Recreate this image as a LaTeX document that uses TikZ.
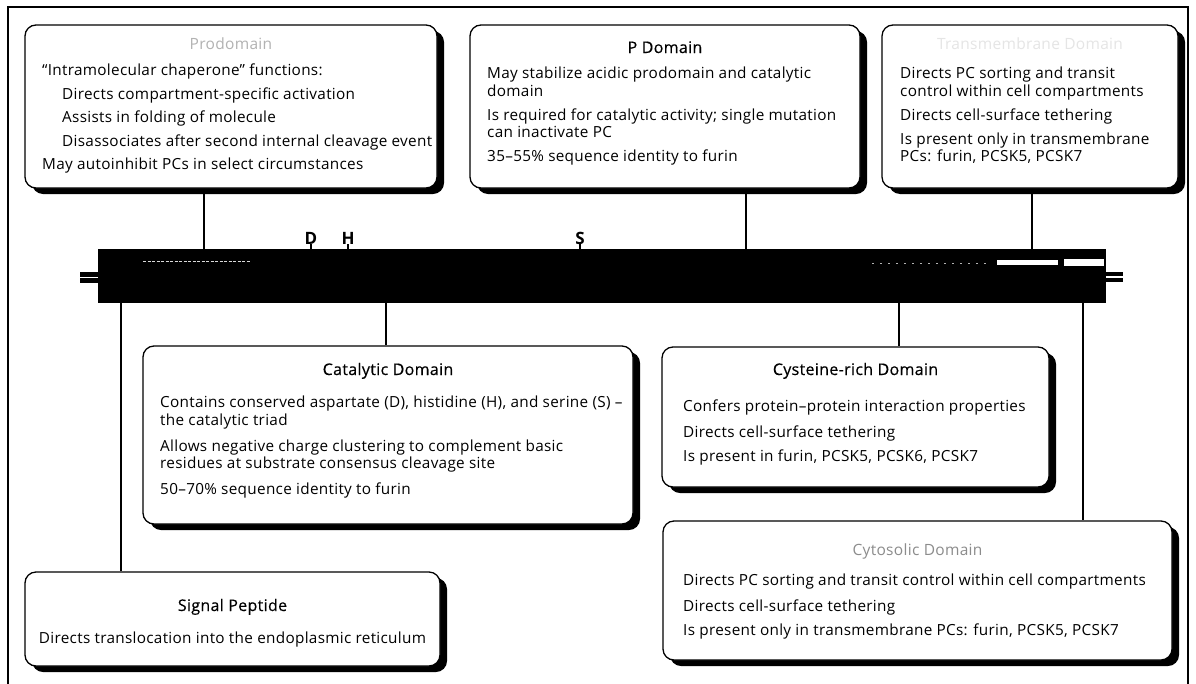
\documentclass[tikz,border=0pt]{standalone}
\usepackage{fontspec}
\setmainfont[LetterSpace=2]{Open Sans}
\newfontfamily\headfont[FakeBold=0.4,LetterSpace=2]{Open Sans}
\usetikzlibrary{shadows}
\tikzset{
  panel/.style={draw=black, line width=1.3pt, rounded corners=11pt, fill=white, inner sep=0pt,
    drop shadow={shadow xshift=7pt, shadow yshift=-6pt, fill=black, opacity=1}},
  heading/.style={anchor=base, inner sep=0pt, font=\headfont\fontsize{16}{18}\selectfont},
  pale/.style={anchor=base, inner sep=0pt, font=\fontsize{15.5}{17}\selectfont},
  body/.style={anchor=north west, inner sep=0pt, align=left, font=\fontsize{15.3}{17.5}\selectfont},
  link/.style={line width=1.6pt},
  residue/.style={anchor=base, inner sep=0pt, font=\bfseries\fontsize{17}{17}\selectfont},
}
\begin{document}
\begin{tikzpicture}[x=1pt,y=-1pt]
\useasboundingbox (0,0) rectangle (1196,683);
\fill[white] (0,0) rectangle (1196,683);
% outer frame
\draw[line width=1.2pt] (8,690) -- (8,7) -- (1188,7) -- (1188,690);

% ---------- upper panels ----------
\node[panel, minimum width=412pt, minimum height=163pt] (pro) at (231,106.5) {};
\node[pale, text=black!30] (proT) at (231,49) {Prodomain};
\node[body] (proB) at (42,64) {%
  ``Intramolecular chaperone'' functions:\\[6pt]
  \hspace*{20pt}Directs compartment-specific activation\\[6pt]
  \hspace*{20pt}Assists in folding of molecule\\[6pt]
  \hspace*{20pt}Disassociates after second internal cleavage event\\[6pt]
  May autoinhibit PCs in select circumstances};

\node[panel, minimum width=390pt, minimum height=163pt] (pd) at (665,106.5) {};
\node[heading] (pdT) at (665,53) {P Domain};
\node[body] (pdB) at (487,67) {%
  May stabilize acidic prodomain and catalytic\\
  domain\\[6.5pt]
  Is required for catalytic activity; single mutation\\
  can inactivate PC\\[6.5pt]
  35--55\% sequence identity to furin};

\node[panel, minimum width=296pt, minimum height=163pt] (tm) at (1030,106.5) {};
\node[pale, text=black!10] (tmT) at (1030,49) {Transmembrane Domain};
\node[body] (tmB) at (900,67) {%
  Directs PC sorting and transit\\
  control within cell compartments\\[6.5pt]
  Directs cell-surface tethering\\[6.5pt]
  Is present only in transmembrane\\
  PCs: furin, PCSK5, PCSK7};

% ---------- the molecule ----------
\node[fill=black, minimum width=1008pt, minimum height=54pt, inner sep=0pt] (bar) at (602,276) {};
% broken ends of the chain
\fill (80,272) rectangle (98,276.6);
\fill (80,278.4) rectangle (98,283);
\fill (1106,272) rectangle (1123,276.4);
\fill (1106,278.2) rectangle (1123,282);
% pale marks inside the chain
\draw[white!85!black, line width=0.8pt, dash pattern=on 3pt off 1.5pt] (143,261) -- (250,261);
\draw[white!70!black, line width=0.6pt, dash pattern=on 2pt off 6pt] (872,263) -- (990,263);
\fill[white] (997,260) rectangle (1058,265);
\fill[white] (1064,258.5) rectangle (1104,266);

% catalytic residues
\node[residue] (resD) at (311,244) {D};
\node[residue] (resH) at (348,244) {H};
\node[residue] (resS) at (580,244) {S};
\foreach \r in {resD,resH,resS}
  \draw[line width=1.2pt] (\r.south) -- (\r.south |- bar.north);

% ---------- lower panels ----------
\node[panel, minimum width=490pt, minimum height=178pt] (cat) at (388,435) {};
\node[heading] (catT) at (388,375) {Catalytic Domain};
\node[body] (catB) at (160,396) {%
  Contains conserved aspartate (D), histidine (H), and serine (S) --\\
  the catalytic triad\\[8.5pt]
  Allows negative charge clustering to complement basic\\
  residues at substrate consensus cleavage site\\[8.5pt]
  50--70\% sequence identity to furin};

\node[panel, minimum width=387pt, minimum height=140pt] (cys) at (855.5,417) {};
\node[heading] (cysT) at (855.5,375) {Cysteine-rich Domain};
\node[body] (cysB) at (683,400) {%
  Confers protein--protein interaction properties\\[8pt]
  Directs cell-surface tethering\\[7pt]
  Is present in furin, PCSK5, PCSK6, PCSK7};

\node[panel, minimum width=509pt, minimum height=139pt] (cyt) at (917.5,590.5) {};
\node[pale, text=black!45] (cytT) at (917.5,555) {Cytosolic Domain};
\node[body] (cytB) at (683,574) {%
  Directs PC sorting and transit control within cell compartments\\[8pt]
  Directs cell-surface tethering\\[7pt]
  Is present only in transmembrane PCs: furin, PCSK5, PCSK7};

\node[panel, minimum width=415pt, minimum height=94pt] (sig) at (232.5,619) {};
\node[heading] (sigT) at (232.5,611) {Signal Peptide};
\node[anchor=base, inner sep=0pt, font=\fontsize{15.3}{17.5}\selectfont] (sigB) at (232.5,643)
  {Directs translocation into the endoplasmic reticulum};

% ---------- connectors ----------
\coordinate (xpro) at (204,0);
\coordinate (xpd)  at (746,0);
\coordinate (xtm)  at (1032,0);
\coordinate (xsig) at (121,0);
\coordinate (xcat) at (386,0);
\coordinate (xcys) at (899,0);
\coordinate (xcyt) at (1083,0);
\draw[link] (xpro |- pro.south) -- (xpro |- bar.north);
\draw[link] (xpd |- pd.south) -- (xpd |- bar.north);
\draw[link] (xtm |- tm.south) -- (xtm |- bar.north);
\draw[link] (xsig |- bar.south) -- (xsig |- sig.north);
\draw[link] (xcat |- bar.south) -- (xcat |- cat.north);
\draw[link] (xcys |- bar.south) -- (xcys |- cys.north);
\draw[link] (xcyt |- bar.south) -- (xcyt |- cyt.north);
\end{tikzpicture}
\end{document}
